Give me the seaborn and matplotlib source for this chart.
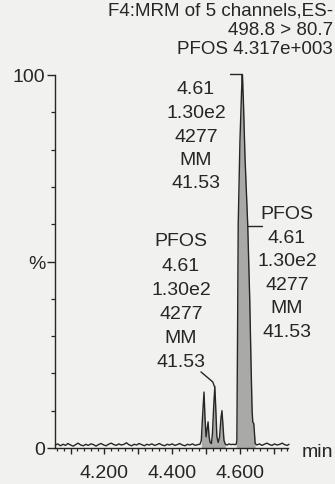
import matplotlib
matplotlib.use("Agg")
import matplotlib.pyplot as plt
import seaborn as sns
import numpy as np
import pandas as pd
from matplotlib.ticker import MultipleLocator, FuncFormatter

# ---------------- data ----------------
times = [4.055, 4.062, 4.070, 4.078, 4.085, 4.092, 4.100, 4.108, 4.115, 4.122,
         4.130, 4.138, 4.145, 4.152, 4.160, 4.168, 4.175, 4.182, 4.190, 4.198,
         4.205, 4.212, 4.220, 4.228, 4.235, 4.242, 4.250, 4.258, 4.265, 4.272,
         4.280, 4.288, 4.295, 4.302, 4.310, 4.318, 4.325, 4.332, 4.340, 4.348,
         4.355, 4.362, 4.370, 4.378, 4.385, 4.392, 4.400, 4.408, 4.415, 4.422,
         4.430, 4.438, 4.445, 4.452, 4.460, 4.468, 4.475, 4.482, 4.486, 4.490,
         4.494, 4.497, 4.500, 4.503, 4.506, 4.509, 4.512, 4.516, 4.519, 4.523,
         4.526, 4.529, 4.532, 4.536, 4.540, 4.544, 4.547, 4.550, 4.553, 4.557,
         4.562, 4.568, 4.574, 4.580, 4.585, 4.589, 4.591, 4.593, 4.595, 4.600,
         4.605, 4.607, 4.610, 4.615, 4.623, 4.629, 4.633, 4.636, 4.638, 4.641,
         4.643, 4.645, 4.650, 4.658, 4.665, 4.672, 4.680, 4.688, 4.695, 4.702,
         4.710, 4.718, 4.725, 4.732, 4.740, 4.745]
intensity = [0.8, 1.1, 0.6, 1.0, 0.7, 1.2, 0.8, 0.5, 0.9, 1.3,
             0.8, 0.6, 1.0, 0.7, 1.1, 0.9, 0.5, 0.9, 1.2, 0.8,
             0.6, 1.0, 1.3, 0.9, 0.7, 1.1, 0.8, 1.0, 1.4, 0.9,
             0.6, 1.0, 0.8, 1.2, 0.9, 0.6, 1.0, 0.8, 1.1, 0.7,
             0.9, 1.2, 0.8, 0.6, 1.0, 0.8, 1.1, 0.7, 0.9, 1.2,
             0.8, 0.6, 1.0, 0.8, 1.1, 0.7, 0.9, 1.0, 2.0, 9.0,
             15.0, 8.0, 3.0, 5.0, 7.0, 3.0, 1.5, 1.2, 4.0, 12.0,
             16.5, 10.0, 3.0, 1.5, 3.0, 8.0, 10.0, 6.0, 2.0, 1.0,
             0.8, 1.1, 0.9, 1.0, 0.9, 1.0, 2.0, 30.0, 60.0, 82.0,
             96.0, 100.0, 94.0, 78.0, 60.0, 40.0, 22.0, 10.0, 7.0, 6.5,
             4.0, 1.2, 0.8, 1.1, 0.7, 1.0, 1.3, 0.9, 0.7, 1.1,
             0.8, 1.0, 1.3, 0.9, 0.7, 1.0]
filled_ranges = [(4.486, 4.557), (4.589, 4.645)]

header_lines = ["F4:MRM of 5 channels,ES-", "498.8 > 80.7", "PFOS 4.317e+003"]
top_label = ["4.61", "1.30e2", "4277", "MM", "41.53"]
right_label = ["PFOS", "4.61", "1.30e2", "4277", "MM", "41.53"]
left_label = ["PFOS", "4.61", "1.30e2", "4277", "MM", "41.53"]
x_tick_labels = {4.2: "4.200", 4.4: "4.400", 4.6: "4.600"}
y_tick_labels = {0: "0", 50: "%", 100: "100"}
x_unit = "min"

# ---------------- style ----------------
sns.set_style("ticks")
plt.rcParams["font.family"] = ["Liberation Sans", "DejaVu Sans"]
BG = "#f1f1ef"
INK = "#262626"
FS = 14

W, H = 335, 485
fig = plt.figure(figsize=(W / 100, H / 100), dpi=100, facecolor=BG)
ax_l, ax_r, ax_top, ax_bot = 55, 288, 76, 449
ax = fig.add_axes([ax_l / W, 1 - ax_bot / H, (ax_r - ax_l) / W, (ax_bot - ax_top) / H])
ax.set_facecolor(BG)

df = pd.DataFrame({"t": times, "i": intensity})
t_arr = np.array(times)
i_arr = np.array(intensity)
for a, b in filled_ranges:
    m = (t_arr >= a) & (t_arr <= b)
    ax.fill_between(t_arr, 0, i_arr, where=m, color="#a9a9a7", lw=0, clip_on=False)
sns.lineplot(data=df, x="t", y="i", estimator=None, sort=False, color=INK,
             lw=1.0, ax=ax, clip_on=False)

ax.set_xlim(4.054, 4.742)
ax.set_ylim(0, 100)
ax.set_xlabel("")
ax.set_ylabel("")

for s in ["top", "right"]:
    ax.spines[s].set_visible(False)
for s in ["left", "bottom"]:
    ax.spines[s].set_color(INK)
    ax.spines[s].set_linewidth(1.0)

ax.xaxis.set_major_locator(MultipleLocator(0.1))
ax.xaxis.set_minor_locator(MultipleLocator(0.02))
ax.xaxis.set_major_formatter(FuncFormatter(
    lambda v, p: next((lab for k, lab in x_tick_labels.items() if abs(v - k) < 1e-6), "")))
ax.set_yticks(list(y_tick_labels.keys()))
ax.set_yticklabels(list(y_tick_labels.values()))
ax.yaxis.set_minor_locator(MultipleLocator(10))

ax.tick_params(axis="x", which="major", length=4.5, width=1.0, color=INK,
               labelsize=FS, labelcolor=INK, pad=7, direction="out")
ax.tick_params(axis="x", which="minor", length=2.5, width=0.9, color=INK, direction="out")
ax.tick_params(axis="y", which="major", length=6, width=1.0, color=INK,
               labelsize=FS, labelcolor=INK, pad=1, direction="out")
ax.tick_params(axis="y", which="minor", length=3, width=0.9, color=INK, direction="out")

ax.text(1.06, -0.01, x_unit, transform=ax.transAxes, ha="left", va="center",
        fontsize=FS, color=INK)

def ftext(px, py, s, ha="center", fs=FS):
    fig.text(px / W, 1 - py / H, s, ha=ha, va="center", fontsize=fs, color=INK)

for k, s in enumerate(header_lines):
    ftext(333, 11 + k * 19.5, s, ha="right", fs=13.5)
for k, s in enumerate(top_label):
    ftext(196, 90 + k * 23.5, s)
for k, s in enumerate(right_label):
    ftext(287, 215 + k * 23.5, s)
for k, s in enumerate(left_label):
    ftext(181, 242 + k * 24.2, s)

# leader lines (data coordinates)
ax.plot([4.572, 4.606, 4.606], [100.4, 100.4, 97], color=INK, lw=1.0, clip_on=False)
ax.plot([4.6236, 4.665], [59.5, 59.5], color=INK, lw=1.0, clip_on=False)
ax.plot([4.485, 4.520, 4.525], [20.4, 17.7, 16.4], color=INK, lw=1.0, clip_on=False)

fig.savefig("out.png", dpi=100, facecolor=BG)
